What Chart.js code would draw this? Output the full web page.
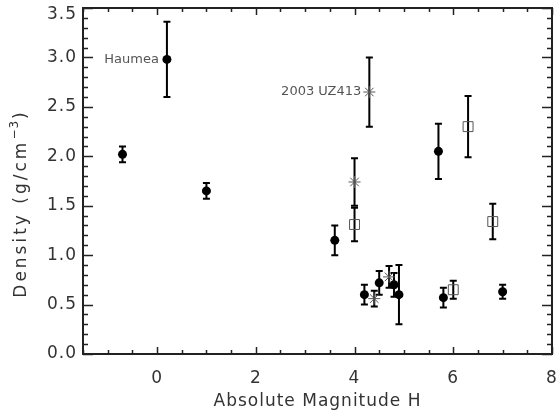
<!DOCTYPE html>
<html>
<head>
<meta charset="utf-8">
<script src="https://cdn.jsdelivr.net/npm/chart.js@4/dist/chart.umd.min.js"></script>
<style>
  body { margin: 0; background: #fff; }
  canvas { display: block; }
</style>
</head>
<body>
<canvas id="myChart" width="560" height="416"></canvas>
<script>
// filled circles
const circleH   = [-0.7, 0.2, 1.0, 3.6, 4.2, 4.5, 4.8, 4.9, 5.7, 5.8, 7.0];
const circleD   = [2.02, 2.98, 1.65, 1.15, 0.60, 0.72, 0.70, 0.60, 2.05, 0.57, 0.63];
const circleErr = [0.08, 0.38, 0.08, 0.15, 0.10, 0.12, 0.12, 0.30, 0.28, 0.10, 0.07];
const circleNames = ['', 'Haumea', '', '', '', '', '', '', '', '', ''];

// open squares
const squareH   = [4.0, 6.0, 6.3, 6.8];
const squareD   = [1.31, 0.65, 2.30, 1.34];
const squareErr = [0.17, 0.09, 0.31, 0.18];
const squareNames = ['', '', '', ''];

// asterisks
const starH   = [4.0, 4.3, 4.4, 4.7];
const starD   = [1.74, 2.65, 0.56, 0.78];
const starErr = [0.24, 0.35, 0.08, 0.11];
const starNames = ['', '2003 UZ413', '', ''];

const xTicks = [0, 2, 4, 6, 8];
const yTicks = [0.0, 0.5, 1.0, 1.5, 2.0, 2.5, 3.0, 3.5];

const FONT = 'DejaVu Sans';
const INK = '#222';

function pts(h, d) { return h.map((v, i) => ({ x: v, y: d[i] })); }

// wider letter spacing like the original plot font
const spacing = {
  id: 'spacing',
  beforeDraw(chart) { chart.ctx.letterSpacing = '1px'; }
};

// error bars under the markers
const errorBars = {
  id: 'errorBars',
  beforeDatasetsDraw(chart) {
    const ctx = chart.ctx, y = chart.scales.y;
    ctx.save();
    ctx.strokeStyle = '#000';
    ctx.lineWidth = 2;
    chart.data.datasets.forEach((ds, di) => {
      const meta = chart.getDatasetMeta(di);
      meta.data.forEach((p, i) => {
        const v = ds.data[i].y, e = ds.err[i];
        const top = y.getPixelForValue(v + e), bot = y.getPixelForValue(v - e);
        ctx.beginPath();
        ctx.moveTo(p.x, top); ctx.lineTo(p.x, bot);
        ctx.moveTo(p.x - 3.5, top); ctx.lineTo(p.x + 3.5, top);
        ctx.moveTo(p.x - 3.5, bot); ctx.lineTo(p.x + 3.5, bot);
        ctx.stroke();
      });
    });
    ctx.restore();
  }
};

// box, inward ticks on all sides, y labels, y title, point names
const frame = {
  id: 'frame',
  afterDraw(chart) {
    const ctx = chart.ctx, a = chart.chartArea;
    const xs = chart.scales.x, ys = chart.scales.y;
    ctx.save();
    ctx.strokeStyle = INK;
    ctx.lineWidth = 2;
    ctx.strokeRect(a.left, a.top, a.right - a.left, a.bottom - a.top);

    ctx.lineWidth = 1.5;
    ctx.beginPath();
    for (let v = xs.min; v <= xs.max + 1e-9; v += 0.5) {
      const px = Math.round(xs.getPixelForValue(v)) + 0.5;
      const len = Math.abs(v % 2) < 1e-9 ? 7 : 4;
      ctx.moveTo(px, a.bottom); ctx.lineTo(px, a.bottom - len);
      ctx.moveTo(px, a.top); ctx.lineTo(px, a.top + len);
    }
    for (let k = 0; k <= 35; k++) {
      const v = k / 10;
      const py = Math.round(ys.getPixelForValue(v)) + 0.5;
      const len = k % 5 === 0 ? 10 : 5;
      ctx.moveTo(a.left, py); ctx.lineTo(a.left + len, py);
      ctx.moveTo(a.right, py); ctx.lineTo(a.right - len, py);
    }
    ctx.stroke();

    // y tick labels
    ctx.fillStyle = '#333';
    ctx.font = '17px ' + FONT;
    ctx.letterSpacing = '1px';
    ctx.textAlign = 'right';
    ctx.textBaseline = 'middle';
    ys.ticks.forEach(t => {
      const py = Math.max(ys.getPixelForValue(t.value), 15);
      ctx.fillText(t.value.toFixed(1), a.left - 6, py);
    });

    // y title, with a real raised exponent
    ctx.save();
    ctx.translate(22, 204);
    ctx.rotate(-Math.PI / 2);
    ctx.textAlign = 'left';
    ctx.letterSpacing = '3px';
    const big = '17px ' + FONT, small = '12px ' + FONT;
    const p1 = 'Density (g/cm', p2 = '\u22123', p3 = ')';
    ctx.font = big; const w1 = ctx.measureText(p1).width, w3 = ctx.measureText(p3).width;
    ctx.font = small; ctx.letterSpacing = '1px'; const w2 = ctx.measureText(p2).width;
    let x0 = -(w1 + w2 + w3) / 2;
    ctx.font = big; ctx.letterSpacing = '3px';
    ctx.fillText(p1, x0, 0);
    ctx.font = small; ctx.letterSpacing = '1px';
    ctx.fillText(p2, x0 + w1, -7);
    ctx.font = big; ctx.letterSpacing = '3px';
    ctx.fillText(p3, x0 + w1 + w2 + 1, 0);
    ctx.restore();

    // names next to points
    ctx.font = '13px ' + FONT;
    ctx.letterSpacing = '0px';
    ctx.fillStyle = '#555';
    ctx.textAlign = 'right';
    chart.data.datasets.forEach((ds, di) => {
      const meta = chart.getDatasetMeta(di);
      ds.names.forEach((n, i) => {
        if (!n) return;
        const p = meta.data[i];
        ctx.fillText(n, p.x - 8, p.y);
      });
    });
    ctx.restore();
  }
};

new Chart(document.getElementById('myChart'), {
  type: 'scatter',
  data: {
    datasets: [
      {
        data: pts(squareH, squareD), err: squareErr, names: squareNames,
        pointStyle: 'rect', pointRadius: 7, borderWidth: 1,
        borderColor: '#555', backgroundColor: 'rgba(0,0,0,0)'
      },
      {
        data: pts(starH, starD), err: starErr, names: starNames,
        pointStyle: 'star', pointRadius: 6, borderWidth: 1,
        borderColor: '#555', backgroundColor: 'rgba(0,0,0,0)'
      },
      {
        data: pts(circleH, circleD), err: circleErr, names: circleNames,
        pointStyle: 'circle', pointRadius: 4.5, borderWidth: 0,
        backgroundColor: '#000', borderColor: '#000'
      }
    ]
  },
  options: {
    responsive: false,
    animation: false,
    devicePixelRatio: 1,
    layout: { padding: { top: 6, right: 8, left: 0, bottom: 0 } },
    plugins: { legend: { display: false }, tooltip: { enabled: false } },
    scales: {
      x: {
        type: 'linear', min: -1.5, max: 8,
        border: { display: false },
        grid: { display: false },
        afterBuildTicks: s => { s.ticks = xTicks.map(v => ({ value: v })); },
        afterFit: s => { s.height = 62; s.paddingLeft = 0; s.paddingRight = 0; },
        ticks: { color: '#333', font: { family: FONT, size: 17 }, padding: 6, maxRotation: 0 },
        title: {
          display: true, text: 'Absolute Magnitude H', color: '#333',
          font: { family: FONT, size: 17 }, padding: { top: 0, bottom: 4 }
        }
      },
      y: {
        type: 'linear', min: 0, max: 3.5,
        border: { display: false },
        grid: { display: false },
        afterBuildTicks: s => { s.ticks = yTicks.map(v => ({ value: v })); },
        afterFit: s => { s.width = 83; s.paddingTop = 0; s.paddingBottom = 0; },
        ticks: { display: false }
      }
    }
  },
  plugins: [spacing, errorBars, frame]
});
</script>
</body>
</html>
